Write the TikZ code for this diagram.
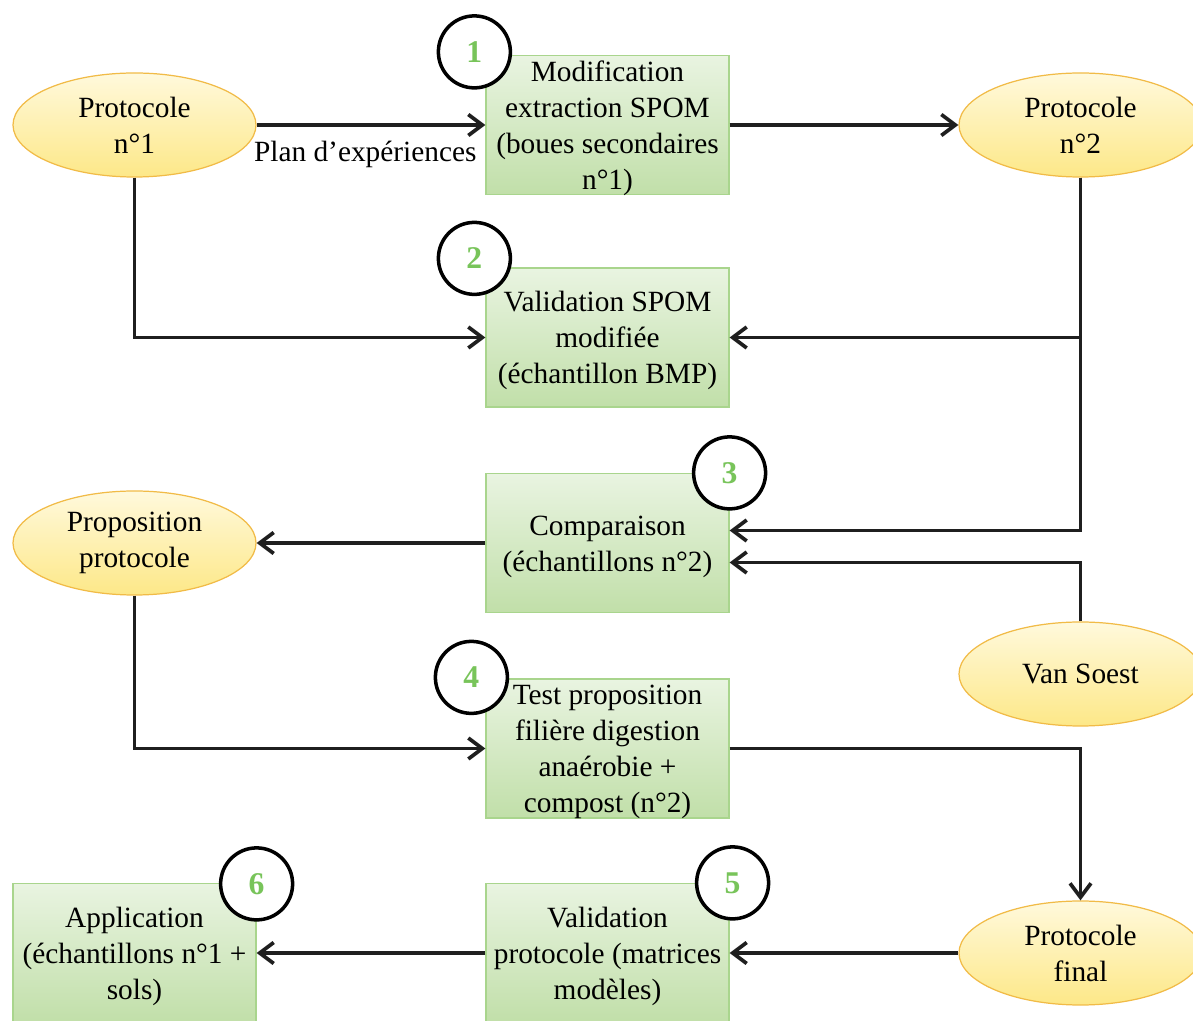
\documentclass[tikz,border=0pt]{standalone}
\usepackage{fontspec}
\setmainfont{Liberation Serif}
\usetikzlibrary{positioning,shapes,arrows.meta}
\definecolor{boxtop}{HTML}{E9F4E1}
\definecolor{boxbot}{HTML}{C1DFA9}
\definecolor{boxline}{HTML}{A9D58D}
\definecolor{elltop}{HTML}{FFF9DC}
\definecolor{ellbot}{HTML}{FDE888}
\definecolor{ellline}{HTML}{F1BB47}
\definecolor{numgreen}{HTML}{78C45A}
\newcommand{\hautligne}{\rule{0pt}{15pt}}

\begin{document}
\begin{tikzpicture}[
  node distance=4.11cm and 9.46cm, on grid,
  every node/.style={font=\fontsize{16.7}{20.5}\selectfont},
  etape/.style={draw=boxline,line width=0.7pt,top color=boxtop,bottom color=boxbot,minimum width=4.86cm,minimum height=2.78cm,align=center,inner xsep=0pt,inner ysep=-2mm},
  proto/.style={draw=ellline,line width=0.7pt,top color=elltop,bottom color=ellbot,ellipse,minimum width=4.86cm,minimum height=2.08cm,align=center,inner sep=0pt},
  numero/.style={draw,circle,line width=2pt,fill=white,minimum size=1.44cm,inner sep=0pt,font=\fontsize{18}{20}\selectfont\bfseries,text=numgreen},
  fleche/.style={-{Straight Barb[length=2.8mm,width=4.2mm]},line width=2.1pt,draw=black!88}
]
\useasboundingbox (0,0) rectangle (23.86,-20.42);
\node[proto] (p1) at (2.69,-2.5) {Protocole\\n°1};
\node[etape,right=of p1] (m1) {\hautligne Modification\\extraction SPOM\\(boues secondaires\\n°1)};
\node[proto,right=of m1] (p2) {Protocole\\n°2};
\node[etape,below=4.25cm of m1] (m2) {\hautligne Validation SPOM\\modifiée\\(échantillon BMP)};
\node[etape,below=of m2] (m3) {\hautligne Comparaison\\(échantillons n°2)};
\node[proto,left=of m3] (prop) {Proposition\\protocole};
\node[proto,below right=2.62cm and 9.46cm of m3] (vs) {Van Soest};
\node[etape,below=of m3] (m4) {\hautligne Test proposition\\filière digestion\\anaérobie +\\compost (n°2)};
\node[etape,below=4.09cm of m4] (m5) {\hautligne Validation\\protocole (matrices\\modèles)};
\node[proto,right=of m5] (pf) {Protocole\\final};
\node[etape,left=of m5] (app) {\hautligne Application\\(échantillons n°1 +\\sols)};
% liaisons
\draw[fleche] (p1) -- node[below=0.16cm,pos=0.475] {Plan d’expériences} (m1);
\draw[fleche] (m1) -- (p2);
\draw[fleche] (p1) |- (m2);
\draw[fleche] (p2) |- (m2);
\draw[fleche] (p2) |- ([yshift=0.25cm]m3.east);
\draw[fleche] (vs) |- ([yshift=-0.39cm]m3.east);
\draw[fleche] (m3) -- (prop);
\draw[fleche] (prop) |- (m4);
\draw[fleche] (m4) -| (pf);
\draw[fleche] (pf) -- (m5);
\draw[fleche] (m5) -- (app);
% numeros des etapes
\node[numero] (n1) at ([shift={(-0.22,0.06)}]m1.north west) {1};
\node[numero] (n2) at ([shift={(-0.22,0.18)}]m2.north west) {2};
\node[numero] (n3) at (m3.north east) {3};
\node[numero] (n4) at ([shift={(-0.28,0.02)}]m4.north west) {4};
\node[numero] (n5) at ([shift={(0.06,0)}]m5.north east) {5};
\node[numero] (n6) at ([shift={(0,-0.02)}]app.north east) {6};
\end{tikzpicture}
\end{document}
